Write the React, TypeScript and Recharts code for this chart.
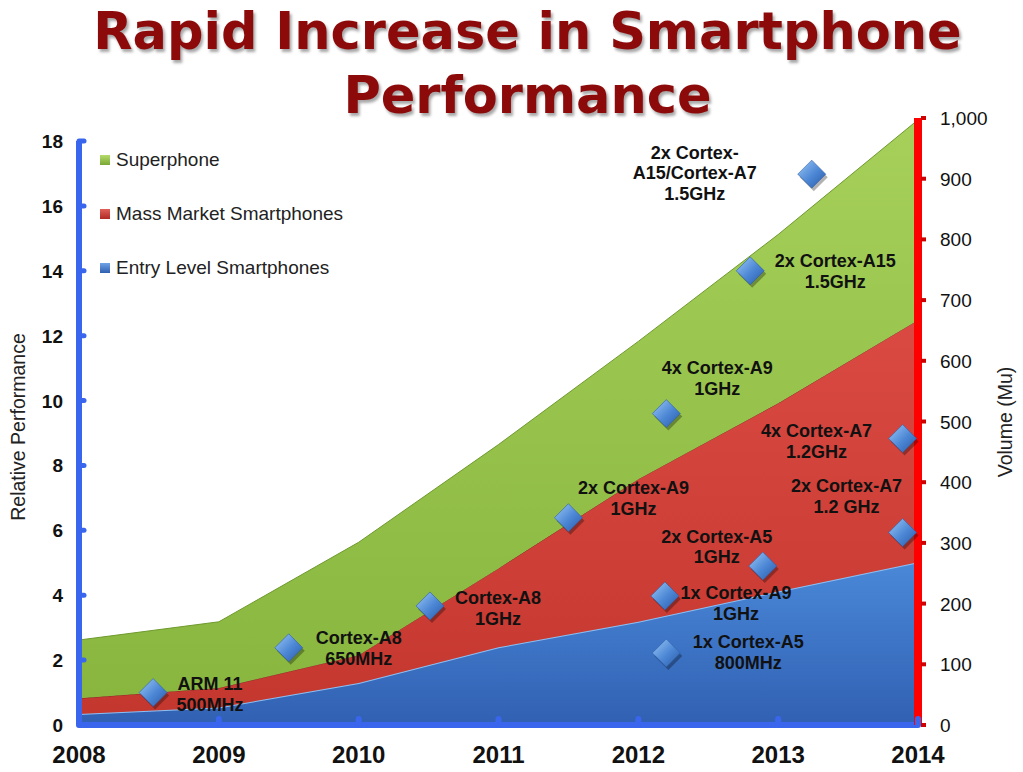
import { Area, ComposedChart, Legend, ReferenceLine, Scatter, XAxis, YAxis } from 'recharts'

// volume (millions of units), stacked bottom to top
const years = [2008, 2009, 2010, 2011, 2012, 2013, 2014]
const entryLevel = [18, 29, 69, 128, 170, 220, 268]
const massMarket = [26, 32, 46, 130, 235, 310, 399]
const superphone = [96, 109, 186, 204, 227, 278, 330]

const perfTicks = [0, 2, 4, 6, 8, 10, 12, 14, 16, 18]
const volumeTicks = [0, 100, 200, 300, 400, 500, 600, 700, 800, 900, 1000]

// cores plotted against relative performance
const coreNames = [
  'ARM 11\n500MHz',
  'Cortex-A8\n650MHz',
  'Cortex-A8\n1GHz',
  '2x Cortex-A9\n1GHz',
  '4x Cortex-A9\n1GHz',
  '1x Cortex-A9\n1GHz',
  '1x Cortex-A5\n800MHz',
  '2x Cortex-A5\n1GHz',
  '2x Cortex-A15\n1.5GHz',
  '2x Cortex-\nA15/Cortex-A7\n1.5GHz',
  '4x Cortex-A7\n1.2GHz',
  '2x Cortex-A7\n1.2 GHz',
]
const coreYears = [2008.53, 2009.5, 2010.51, 2011.5, 2012.2, 2012.19, 2012.2, 2012.89, 2012.8, 2013.24, 2013.89, 2013.89]
const corePerf = [1.0, 2.38, 3.67, 6.39, 9.6, 3.98, 2.22, 4.9, 14.0, 16.98, 8.83, 5.93]

// where each annotation sits relative to its diamond (first line centre)
const labelOffset: [number, number][] = [
  [57, -9], [70, -10], [68, -8], [65, -30], [51, -46], [71, -3],
  [82, -11], [-46, -30], [85, -10], [-117, -22], [-86, -8], [-56, -47],
]

const volumeData = years.map((year, i) => ({
  year,
  entry: entryLevel[i],
  mass: massMarket[i],
  superphone: superphone[i],
}))

const coreData = coreNames.map((name, i) => ({ name, year: coreYears[i], perf: corePerf[i] }))

const FONT = '"Liberation Sans", Arial, sans-serif'
const AXIS_BLUE = '#3a66ee'
const AXIS_RED = '#ff0000'

function PerfTick({ x, y, payload }: any) {
  return (
    <g>
      <line x1={x} x2={x + 5} y1={y} y2={y} stroke={AXIS_BLUE} strokeWidth={5} strokeLinecap="round" />
      <text x={x - 16} y={y} dy={7} textAnchor="end" fontSize={19} fontWeight="bold" fill="#111" fontFamily={FONT}>
        {payload.value}
      </text>
    </g>
  )
}

function VolumeTick({ x, y, payload }: any) {
  return (
    <g>
      <line x1={x + 3} x2={x + 8} y1={y} y2={y} stroke="#d00000" strokeWidth={4} />
      <text x={x + 22} y={y} dy={7} textAnchor="start" fontSize={19} fill="#111" fontFamily={FONT}>
        {Number(payload.value).toLocaleString('en-US')}
      </text>
    </g>
  )
}

function YearTick({ x, y, payload }: any) {
  return (
    <g>
      <line x1={x} x2={x} y1={y} y2={y - 6} stroke={AXIS_BLUE} strokeWidth={6} strokeLinecap="round" />
      <text x={x} y={y + 38} textAnchor="middle" fontSize={24} fontWeight="bold" fill="#111" fontFamily={FONT}>
        {payload.value}
      </text>
    </g>
  )
}

function Diamond(props: any) {
  const { cx, cy, payload, index } = props
  if (cx == null || cy == null) return null
  const r = 14
  const pts = (ox: number, oy: number) =>
    `${cx + ox},${cy + oy - r} ${cx + ox + r},${cy + oy} ${cx + ox},${cy + oy + r} ${cx + ox - r},${cy + oy}`
  const [dx, dy] = labelOffset[index] ?? [0, 0]
  const lines = String(payload.name).split('\n')
  return (
    <g>
      <polygon points={pts(2, 3)} fill="rgba(0,0,0,0.3)" />
      <polygon points={pts(0, 0)} fill="url(#gDiamond)" stroke="#2d5ca8" strokeWidth={0.6} />
      {lines.map((line, k) => (
        <text
          key={k}
          x={cx + dx}
          y={cy + dy + k * 20.5}
          dy={6.5}
          textAnchor="middle"
          fontSize={18}
          fontWeight="bold"
          fill="#111"
          fontFamily={FONT}
        >
          {line}
        </text>
      ))}
    </g>
  )
}

const legendSwatch: Record<string, string> = {
  superphone: 'linear-gradient(#b5dc6a, #7aa835)',
  mass: 'linear-gradient(#e0605a, #b02a25)',
  entry: 'linear-gradient(#6fa3e6, #2f5fb0)',
}

function LegendBox({ payload }: any) {
  const items = [...(payload ?? [])].filter((p: any) => p.dataKey in legendSwatch).reverse()
  return (
    <div style={{ fontFamily: FONT, fontSize: 19, color: '#222' }}>
      {items.map((item: any) => (
        <div key={item.value} style={{ height: 54, display: 'flex', alignItems: 'center' }}>
          <span
            style={{
              width: 10,
              height: 10,
              marginRight: 6,
              background: legendSwatch[item.dataKey],
              display: 'inline-block',
            }}
          />
          <span>{item.value}</span>
        </div>
      ))}
    </div>
  )
}

export default function App() {
  return (
    <div style={{ position: 'absolute', left: 0, top: 0, width: 1023, height: 772, background: '#fff' }}>
      <ComposedChart width={1023} height={772} data={volumeData} margin={{ top: 118, right: 0, bottom: 7, left: 0 }}>
        <defs>
          <linearGradient id="gGreen" x1="0" y1="0" x2="0" y2="1">
            <stop offset="0%" stopColor="#a6d05a" />
            <stop offset="100%" stopColor="#88b63e" />
          </linearGradient>
          <linearGradient id="gRed" x1="0" y1="0" x2="0" y2="1">
            <stop offset="0%" stopColor="#da4a42" />
            <stop offset="100%" stopColor="#c4372f" />
          </linearGradient>
          <linearGradient id="gBlue" x1="0" y1="0" x2="0" y2="1">
            <stop offset="0%" stopColor="#4a88d8" />
            <stop offset="100%" stopColor="#3160b2" />
          </linearGradient>
          <linearGradient id="gDiamond" x1="0" y1="0" x2="1" y2="1">
            <stop offset="0%" stopColor="#9cc8f6" />
            <stop offset="55%" stopColor="#4b86d4" />
            <stop offset="100%" stopColor="#2b5aa6" />
          </linearGradient>
        </defs>

        <XAxis
          dataKey="year"
          type="number"
          domain={[2008, 2014]}
          ticks={years}
          height={40}
          axisLine={{ stroke: AXIS_BLUE, strokeWidth: 6 }}
          tickLine={false}
          tickSize={0}
          tickMargin={0}
          tick={<YearTick />}
          interval={0}
        />
        <YAxis
          yAxisId="perf"
          orientation="left"
          width={79}
          domain={[0, 18.71]}
          ticks={perfTicks}
          allowDataOverflow
          axisLine={false}
          tickLine={false}
          tickSize={0}
          tickMargin={0}
          tick={<PerfTick />}
          interval={0}
          label={{
            content: ({ viewBox }: any) => (
              <text
                x={viewBox.x + 18}
                y={427}
                transform={`rotate(-90, ${viewBox.x + 18}, 427)`}
                textAnchor="middle"
                dominantBaseline="central"
                fontSize={19.5}
                fill="#222"
                fontFamily={FONT}
              >
                Relative Performance
              </text>
            ),
          }}
        />
        <YAxis
          yAxisId="vol"
          orientation="right"
          width={105}
          domain={[0, 1000]}
          ticks={volumeTicks}
          axisLine={{ stroke: AXIS_RED, strokeWidth: 8 }}
          tickLine={false}
          tickSize={0}
          tickMargin={0}
          tick={<VolumeTick />}
          interval={0}
          label={{
            content: ({ viewBox }: any) => (
              <text
                x={viewBox.x + 87}
                y={422}
                transform={`rotate(-90, ${viewBox.x + 87}, 422)`}
                textAnchor="middle"
                dominantBaseline="central"
                fontSize={19.5}
                fill="#222"
                fontFamily={FONT}
              >
                Volume (Mu)
              </text>
            ),
          }}
        />

        <Area
          yAxisId="vol"
          dataKey="entry"
          name="Entry Level Smartphones"
          stackId="v"
          type="linear"
          fill="url(#gBlue)"
          fillOpacity={1}
          stroke="#8cc0f4"
          strokeWidth={2}
          isAnimationActive={false}
        />
        <Area
          yAxisId="vol"
          dataKey="mass"
          name="Mass Market Smartphones"
          stackId="v"
          type="linear"
          fill="url(#gRed)"
          fillOpacity={1}
          stroke="#8a2a22"
          strokeWidth={1}
          isAnimationActive={false}
        />
        <Area
          yAxisId="vol"
          dataKey="superphone"
          name="Superphone"
          stackId="v"
          type="linear"
          fill="url(#gGreen)"
          fillOpacity={1}
          stroke="#6e9a2e"
          strokeWidth={1}
          isAnimationActive={false}
        />

        <ReferenceLine
          yAxisId="perf"
          segment={[{ x: 2008, y: 0 }, { x: 2008, y: 18 }]}
          stroke={AXIS_BLUE}
          strokeWidth={6}
        />

        <Scatter
          yAxisId="perf"
          data={coreData}
          dataKey="perf"
          legendType="none"
          shape={<Diamond />}
          isAnimationActive={false}
        />

        <Legend
          layout="vertical"
          align="center"
          verticalAlign="middle"
          content={<LegendBox />}
          wrapperStyle={{ left: 100, top: 133, width: 320, height: 170 }}
        />
      </ComposedChart>

      <div
        style={{
          position: 'absolute',
          left: 16,
          top: 0,
          width: 1023,
          textAlign: 'center',
          fontFamily: '"DejaVu Sans", Verdana, sans-serif',
          fontWeight: 'bold',
          fontSize: 51,
          lineHeight: '64px',
          color: '#8c0a0a',
          textShadow: '2px 3px 3px rgba(0,0,0,0.35)',
          pointerEvents: 'none',
        }}
      >
        <div>Rapid Increase in Smartphone</div>
        <div>Performance</div>
      </div>
    </div>
  )
}
